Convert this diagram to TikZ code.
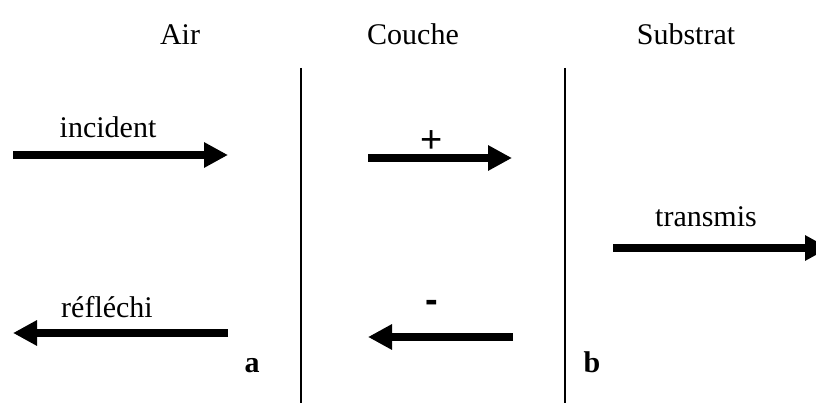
\documentclass[tikz,border=0pt]{standalone}
\usepackage{fontspec}
\setmainfont{Liberation Serif}
\setsansfont{Liberation Sans}
\usetikzlibrary{arrows.meta}
\begin{document}
\begin{tikzpicture}[x=1pt,y=-1pt,font=\fontsize{30}{36}\selectfont,line join=round,
  onde/.style={line width=8pt,-{Triangle[length=24pt,width=24pt]}},
  interface/.style={line width=1.6pt},
  signe/.style={inner sep=0pt,font=\fontsize{38}{44}\selectfont\sffamily}]
\def \xmax{816};
\def \ymax{403};
\useasboundingbox (0,0) rectangle (\xmax,\ymax);
% milieux
\foreach \x/\n/\t in {180/air/Air,413/couche/Couche,686/substrat/Substrat}{\node[anchor=base,inner sep=0pt] (\n) at (\x,45) {\t};}
% interfaces a et b
\foreach \x/\n in {301/a,565/b}{\coordinate (\n haut) at (\x,68); \coordinate (\n bas) at (\x,\ymax); \draw[interface] (\n haut) -- (\n bas);}
\node[anchor=base,inner sep=0pt,font=\fontsize{30}{36}\selectfont\bfseries] (lettre a) at (252,372) {a};
\node[anchor=base,inner sep=0pt,font=\fontsize{30}{36}\selectfont\bfseries] (lettre b) at (592,372) {b};
% ondes
\foreach \n/\xa/\xb/\y in {inc/13/228/155,plus/368/512/158,tra/613/829/248,ref/228/13/333,moins/513/368/337}{\coordinate (\n0) at (\xa,\y); \coordinate (\n1) at (\xb,\y); \draw[onde] (\n0) -- (\n1);}
\foreach \x/\y/\n/\t in {108/138/incident/incident,107/317/reflechi/réfléchi,706/227/transmis/transmis}{\node[anchor=base,inner sep=0pt] (\n) at (\x,\y) {\t};}
\node[signe] (signe plus) at (432,142) {+};
\node[signe,font=\fontsize{38}{44}\selectfont\sffamily\bfseries] (signe moins) at (432,306) {-};
\end{tikzpicture}
\end{document}
